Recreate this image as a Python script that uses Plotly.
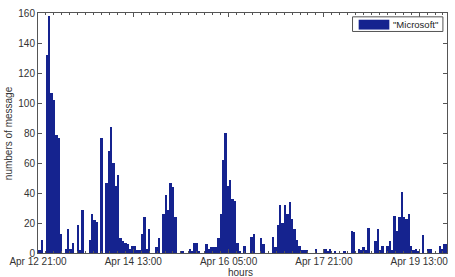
import plotly.graph_objects as go

# hourly message counts starting at Apr 12 21:00
counts = [
    2, 9, 0, 132, 158, 107, 102, 79, 77, 13,          # h0-9
    0, 3, 16, 3, 7, 0, 19, 2, 29, 0,                    # h10-19
    0, 9, 26, 22, 21, 0, 77, 0, 47, 68,                 # h20-29
    84, 60, 45, 52, 10, 8, 7, 6, 3, 5,                  # h30-39
    5, 2, 2, 13, 24, 3, 16, 0, 0, 4,                    # h40-49
    10, 0, 26, 39, 29, 47, 44, 24, 0, 0,                # h50-59
    1, 0, 0, 3, 1, 7, 7, 1, 0, 0,                       # h60-69
    6, 3, 4, 4, 4, 10, 26, 62, 80, 45,                  # h70-79
    49, 36, 35, 7, 1, 0, 5, 0, 0, 11,                   # h80-89
    13, 0, 0, 10, 6, 0, 0, 0, 11, 4,                    # h90-99
    19, 32, 20, 32, 26, 34, 23, 16, 9, 5,               # h100-109
    2, 2, 2, 0, 0, 0, 3, 0, 0, 0,                       # h110-119
    3, 1, 3, 0, 1, 0, 0, 0, 1, 0,                       # h120-129
    0, 15, 14, 0, 3, 2, 4, 2, 17, 0,                    # h130-139
    0, 8, 16, 2, 5, 0, 5, 8, 2, 25,                     # h140-149
    15, 24, 41, 24, 23, 26, 5, 2, 3, 1,                 # h150-159
    0, 12, 0, 3, 3, 0, 0, 0, 5, 3,                      # h160-169
    6, 6,                                               # h170-171
]
tick_hours = [0, 40, 80, 120, 160]
tick_labels = ["Apr 12 21:00", "Apr 14 13:00", "Apr 16 05:00", "Apr 17 21:00", "Apr 19 13:00"]
series_name = '"Microsoft"'
x_title = "hours"
y_title = "numbers of message"

bin_offset = 0.7
hours = [i + bin_offset for i in range(len(counts))]

BAR = "#15238f"
AXIS = "#555555"
TEXT = "#333333"

fig = go.Figure(
    go.Bar(
        x=hours, y=counts, width=1.0,
        marker=dict(color=BAR, line=dict(width=0)),
        showlegend=False, name=series_name,
    )
)

fig.update_layout(
    width=455, height=277,
    margin=dict(l=38, r=7, t=7, b=24),
    paper_bgcolor="white", plot_bgcolor="white",
    bargap=0,
    font=dict(family="Liberation Sans, Arial, sans-serif", size=10, color=TEXT),
    showlegend=False,
)

fig.update_xaxes(
    range=[0, 171.7],
    tickmode="array", tickvals=tick_hours, ticktext=tick_labels,
    ticks="inside", ticklen=4, tickcolor=AXIS,
    showline=True, linecolor=AXIS, linewidth=1, mirror="allticks",
    showgrid=False, zeroline=False,
    minor=dict(ticks="inside", ticklen=2, dtick=40 / 12, tick0=0, tickcolor=AXIS, showgrid=False),
    tickfont=dict(size=10, color=TEXT),
    ticklabelstandoff=-1,
)
fig.update_yaxes(
    range=[0, 160], dtick=20, tick0=0,
    ticks="inside", ticklen=4, tickcolor=AXIS,
    showline=True, linecolor=AXIS, linewidth=1, mirror="allticks",
    showgrid=False, zeroline=False,
    tickfont=dict(size=10, color=TEXT),
)

# axis titles
fig.add_annotation(text=x_title, xref="paper", yref="paper", x=0.496, y=-0.081,
                   xanchor="center", yanchor="middle", showarrow=False,
                   font=dict(size=10, color=TEXT))
fig.add_annotation(text=y_title, xref="paper", yref="paper", x=-0.073, y=0.5,
                   xanchor="center", yanchor="middle", textangle=-90, showarrow=False,
                   font=dict(size=10, color=TEXT))

# MATLAB-style legend box
fig.add_shape(type="rect", xref="paper", yref="paper", x0=0.769, x1=0.990, y0=0.923, y1=0.984,
              line=dict(color=AXIS, width=1), fillcolor="white", layer="above")
fig.add_shape(type="rect", xref="paper", yref="paper", x0=0.784, x1=0.859, y0=0.931, y1=0.972,
              line=dict(width=0), fillcolor=BAR, layer="above")
fig.add_annotation(text=series_name, xref="paper", yref="paper", x=0.862, y=0.951,
                   xanchor="left", yanchor="middle", showarrow=False,
                   font=dict(size=9.5, color="#222222"))

fig.write_html("out.html")
